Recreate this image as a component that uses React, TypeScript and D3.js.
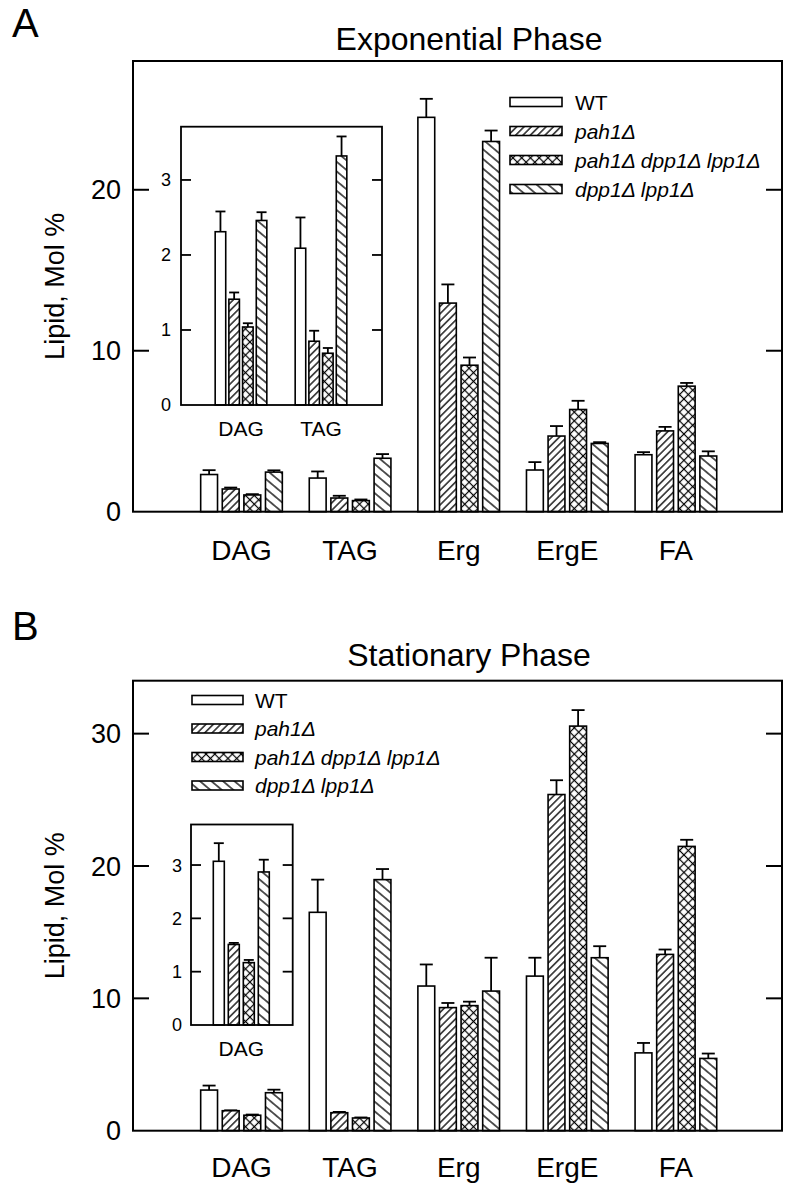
import React from "react";
import * as d3 from "d3";

const categories = ["DAG", "TAG", "Erg", "ErgE", "FA"];
const seriesKeys = ["WT", "pah1", "triple", "dpp"];
const seriesLabels = ["WT", "pah1Δ", "pah1Δ dpp1Δ lpp1Δ", "dpp1Δ lpp1Δ"];
const seriesPatterns = ["url(#pWhite)", "url(#pFwd)", "url(#pCross)", "url(#pBack)"];

// Exponential phase (A): mean values per category, and error (SD) values
const expWT = [2.31, 2.09, 24.5, 2.59, 3.54];
const expPah1 = [1.41, 0.85, 12.96, 4.7, 5.02];
const expTriple = [1.04, 0.69, 9.1, 6.35, 7.8];
const expDpp = [2.46, 3.32, 23.0, 4.24, 3.46];
const expWTErr = [0.27, 0.41, 1.15, 0.49, 0.16];
const expPah1Err = [0.09, 0.14, 1.16, 0.62, 0.25];
const expTripleErr = [0.05, 0.07, 0.48, 0.54, 0.2];
const expDppErr = [0.11, 0.26, 0.68, 0.08, 0.29];

// Stationary phase (B)
const statWT = [3.07, 16.5, 10.93, 11.68, 5.88];
const statPah1 = [1.51, 1.36, 9.3, 25.4, 13.32];
const statTriple = [1.17, 0.96, 9.45, 30.57, 21.48];
const statDpp = [2.87, 18.97, 10.55, 13.07, 5.46];
const statWTErr = [0.34, 2.47, 1.63, 1.39, 0.75];
const statPah1Err = [0.03, 0.06, 0.35, 1.08, 0.37];
const statTripleErr = [0.05, 0.04, 0.3, 1.21, 0.5];
const statDppErr = [0.23, 0.8, 2.52, 0.87, 0.37];

const expTicks = [0, 10, 20];
const statTicks = [0, 10, 20, 30];
const insetTicks = [0, 1, 2, 3];
const insetCatsA = ["DAG", "TAG"];
const insetCatsB = ["DAG"];

const FONT = "'Liberation Sans', Arial, Helvetica, sans-serif";

function BarSet({
  cats, values, errs, x0, x1, y, cap,
}: {
  cats: string[]; values: number[][]; errs: number[][];
  x0: d3.ScaleBand<string>; x1: d3.ScaleBand<string>; y: d3.ScaleLinear<number, number>; cap: number;
}) {
  const out: React.ReactNode[] = [];
  cats.forEach((c, ci) => {
    seriesKeys.forEach((s, si) => {
      const v = values[si][ci];
      const e = errs[si][ci];
      const bx = (x0(c) as number) + (x1(s) as number);
      const bw = x1.bandwidth();
      const cx = bx + bw / 2;
      out.push(
        <g key={c + s}>
          <line x1={cx} x2={cx} y1={y(v)} y2={y(v + e)} stroke="#000" strokeWidth={1.8} />
          <line x1={cx - cap} x2={cx + cap} y1={y(v + e)} y2={y(v + e)} stroke="#000" strokeWidth={1.8} />
          <rect x={bx} y={y(v)} width={bw} height={y(0) - y(v)} fill={seriesPatterns[si]} stroke="#000" strokeWidth={1.6} />
        </g>
      );
    });
  });
  return <g>{out}</g>;
}

function Panel(props: {
  letter: string; letterY: number; title: string; titleY: number;
  top: number; bottom: number; yMax: number; ticks: number[];
  values: number[][]; errs: number[][];
  legendX: number; legendTextX: number; legendYs: number[]; legendW: number;
  inset: { left: number; right: number; top: number; bottom: number; yMax: number; cats: string[]; range: [number, number]; padding: number; innerPad: number; labelY: number; tickLabelX: number };
  catLabelY: number;
}) {
  const left = 133, right = 782;
  const y = d3.scaleLinear().domain([0, props.yMax]).range([props.bottom, props.top]);
  const x0 = d3.scaleBand<string>().domain(categories).range([187.2, 730.2]).paddingInner(0.2044).paddingOuter(0.1022);
  const x1 = d3.scaleBand<string>().domain(seriesKeys).range([0, x0.bandwidth()]).paddingInner(0.22).paddingOuter(0.11);

  const ins = props.inset;
  const iy = d3.scaleLinear().domain([0, ins.yMax]).range([ins.bottom, ins.top]);
  const ix0 = d3.scaleBand<string>().domain(ins.cats).range(ins.range).paddingInner(ins.padding).paddingOuter(ins.padding / 2);
  const ix1 = d3.scaleBand<string>().domain(seriesKeys).range([0, ix0.bandwidth()]).paddingInner(ins.innerPad).paddingOuter(ins.innerPad / 2);
  const insIdx = ins.cats.map((c) => categories.indexOf(c));
  const insVals = props.values.map((arr) => insIdx.map((i) => arr[i]));
  const insErrs = props.errs.map((arr) => insIdx.map((i) => arr[i]));

  const midY = (props.top + props.bottom) / 2;

  return (
    <g>
      <text x={12} y={props.letterY} fontSize={40} fontFamily={FONT}>{props.letter}</text>
      <text x={469} y={props.titleY} fontSize={32} textAnchor="middle" fontFamily={FONT}>{props.title}</text>
      <text transform={`translate(64,${midY}) rotate(-90)`} fontSize={27} textAnchor="middle" fontFamily={FONT}>Lipid, Mol %</text>

      {/* main bars */}
      <BarSet cats={categories} values={props.values} errs={props.errs} x0={x0} x1={x1} y={y} cap={6.5} />

      {/* frame */}
      <rect x={left} y={props.top} width={right - left} height={props.bottom - props.top} fill="none" stroke="#000" strokeWidth={2} />
      {props.ticks.map((t) => (
        <g key={t}>
          {t > 0 && <line x1={left} x2={left + 16} y1={y(t)} y2={y(t)} stroke="#000" strokeWidth={2} />}
          {t > 0 && <line x1={right - 16} x2={right} y1={y(t)} y2={y(t)} stroke="#000" strokeWidth={2} />}
          <text x={121} y={y(t)} dy="0.36em" fontSize={27} textAnchor="end" fontFamily={FONT}>{t}</text>
        </g>
      ))}
      {categories.map((c) => (
        <text key={c} x={(x0(c) as number) + x0.bandwidth() / 2} y={props.catLabelY} fontSize={28} textAnchor="middle" fontFamily={FONT}>{c}</text>
      ))}

      {/* legend */}
      {seriesKeys.map((s, i) => (
        <g key={s}>
          <rect x={props.legendX} y={props.legendYs[i] - 4.5} width={props.legendW} height={9} fill={seriesPatterns[i]} stroke="#000" strokeWidth={1.6} />
          <text x={props.legendTextX} y={props.legendYs[i]} dy="0.36em" fontSize={21} fontStyle={i === 0 ? "normal" : "italic"} fontFamily={FONT}>{seriesLabels[i]}</text>
        </g>
      ))}

      {/* inset */}
      <rect x={ins.left} y={ins.top} width={ins.right - ins.left} height={ins.bottom - ins.top} fill="#fff" stroke="none" />
      <BarSet cats={ins.cats} values={insVals} errs={insErrs} x0={ix0} x1={ix1} y={iy} cap={5} />
      <rect x={ins.left} y={ins.top} width={ins.right - ins.left} height={ins.bottom - ins.top} fill="none" stroke="#000" strokeWidth={1.8} />
      {insetTicks.map((t) => (
        <g key={t}>
          {t > 0 && <line x1={ins.left} x2={ins.left + 10} y1={iy(t)} y2={iy(t)} stroke="#000" strokeWidth={1.8} />}
          {t > 0 && <line x1={ins.right - 10} x2={ins.right} y1={iy(t)} y2={iy(t)} stroke="#000" strokeWidth={1.8} />}
          <text x={ins.tickLabelX} y={iy(t)} dy="0.36em" fontSize={18} textAnchor="end" fontFamily={FONT}>{t}</text>
        </g>
      ))}
      {ins.cats.map((c) => (
        <text key={c} x={(ix0(c) as number) + ix0.bandwidth() / 2} y={ins.labelY} fontSize={21} textAnchor="middle" fontFamily={FONT}>{c}</text>
      ))}
    </g>
  );
}

export default function App() {
  const expVals = [expWT, expPah1, expTriple, expDpp];
  const expErrs = [expWTErr, expPah1Err, expTripleErr, expDppErr];
  const statVals = [statWT, statPah1, statTriple, statDpp];
  const statErrs = [statWTErr, statPah1Err, statTripleErr, statDppErr];
  return (
    <svg width={800} height={1195} style={{ position: "absolute", left: 0, top: 0, background: "#fff" }}>
      <defs>
        <pattern id="pWhite" patternUnits="userSpaceOnUse" width={4} height={4}>
          <rect width={4} height={4} fill="#fff" />
        </pattern>
        <pattern id="pFwd" patternUnits="userSpaceOnUse" width={5.2} height={5.2} patternTransform="rotate(45)">
          <rect width={5.2} height={5.2} fill="#fff" />
          <line x1={2.6} x2={2.6} y1={-1} y2={6.2} stroke="#000" strokeWidth={1.3} />
        </pattern>
        <pattern id="pBack" patternUnits="userSpaceOnUse" width={7.4} height={7.4} patternTransform="rotate(-50)">
          <rect width={7.4} height={7.4} fill="#fff" />
          <line x1={3.7} x2={3.7} y1={-1} y2={8.4} stroke="#000" strokeWidth={1.3} />
        </pattern>
        <pattern id="pCross" patternUnits="userSpaceOnUse" width={6.2} height={6.2} patternTransform="rotate(45)">
          <rect width={6.2} height={6.2} fill="#fff" />
          <line x1={3.1} x2={3.1} y1={-1} y2={7.2} stroke="#000" strokeWidth={1.2} />
          <line x1={-1} x2={7.2} y1={3.1} y2={3.1} stroke="#000" strokeWidth={1.2} />
        </pattern>
      </defs>
      <rect width={800} height={1195} fill="#fff" />
      <Panel
        letter="A" letterY={37} title="Exponential Phase" titleY={50}
        top={61} bottom={511.7} yMax={28} ticks={expTicks}
        values={expVals} errs={expErrs}
        legendX={510} legendTextX={575} legendYs={[102, 131, 160, 189]} legendW={52}
        inset={{ left: 181, right: 382, top: 126.7, bottom: 405, yMax: 3.71, cats: insetCatsA, range: [201, 361], padding: 0.315, innerPad: 0.23, labelY: 435.5, tickLabelX: 171 }}
        catLabelY={560}
      />
      <Panel
        letter="B" letterY={640} title="Stationary Phase" titleY={666}
        top={680.7} bottom={1130.7} yMax={34} ticks={statTicks}
        values={statVals} errs={statErrs}
        legendX={192} legendTextX={255} legendYs={[700, 728.5, 757, 785.5]} legendW={51}
        inset={{ left: 191, right: 292.7, top: 824.5, bottom: 1025, yMax: 3.76, cats: insetCatsB, range: [211.3, 271.3], padding: 0, innerPad: 0.267, labelY: 1055.5, tickLabelX: 182 }}
        catLabelY={1177}
      />
    </svg>
  );
}
